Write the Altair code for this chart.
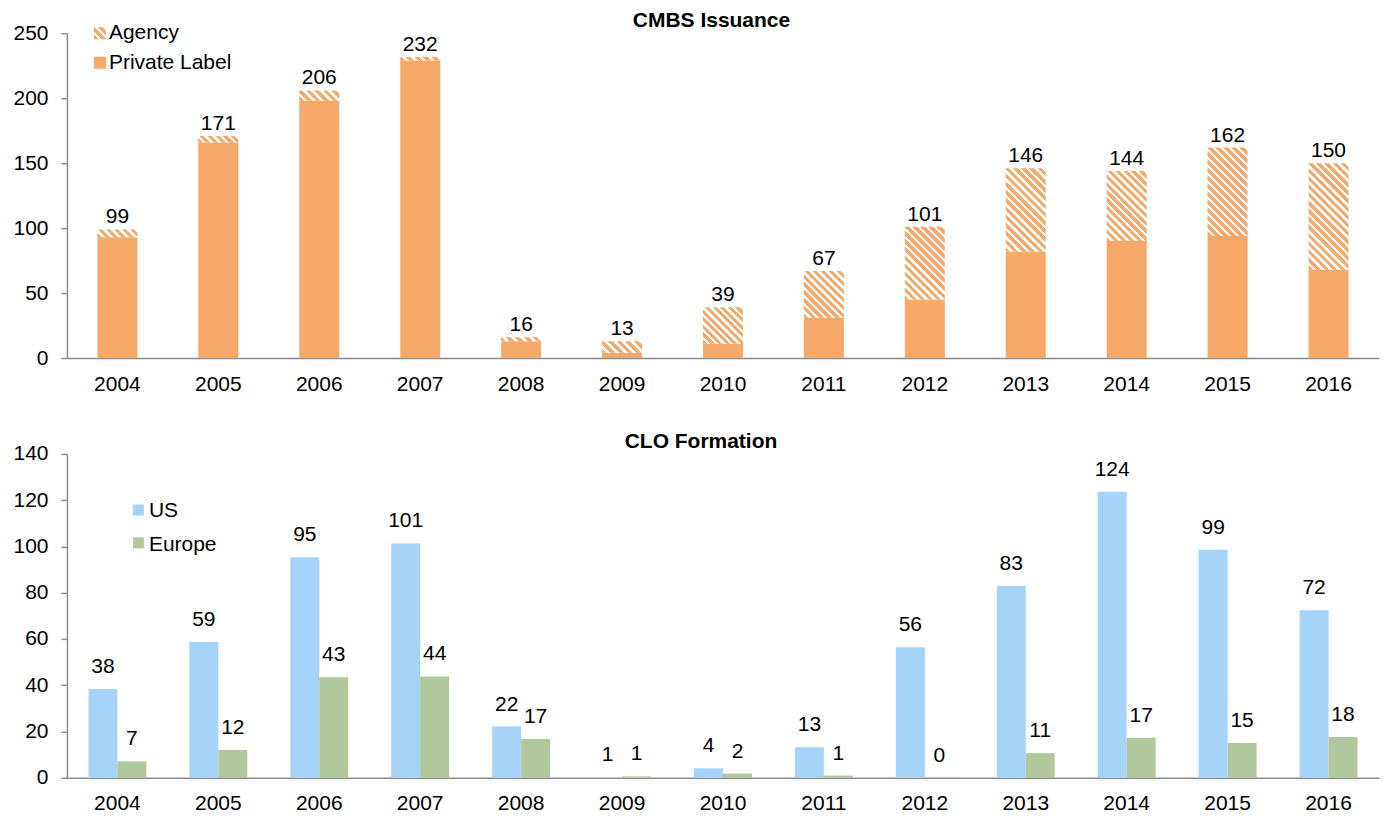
import altair as alt
import pandas as pd

# ---------------- data ----------------
years = ["2004", "2005", "2006", "2007", "2008", "2009", "2010",
         "2011", "2012", "2013", "2014", "2015", "2016"]

cmbs_total = [99, 171, 206, 232, 16, 13, 39, 67, 101, 146, 144, 162, 150]
cmbs_private = [93, 166, 198, 229, 13, 4, 11, 31, 45, 82, 90, 94, 68]

clo_us = [38.4, 58.7, 95.3, 101.3, 22.1, 0.3, 4.1, 13.2, 56.4, 83.0, 123.7, 98.6, 72.4]
clo_europe = [7.1, 12.0, 43.4, 43.8, 16.8, 0.6, 1.8, 0.9, 0.1, 10.6, 17.3, 15.0, 17.6]
clo_us_labels = ["38", "59", "95", "101", "22", "1", "4", "13", "56", "83", "124", "99", "72"]
clo_europe_labels = ["7", "12", "43", "44", "17", "1", "2", "1", "0", "11", "17", "15", "18"]

cmbs_ticks = [0, 50, 100, 150, 200, 250]
clo_ticks = [0, 20, 40, 60, 80, 100, 120, 140]

# ---------------- style ----------------
ORANGE = "#F5A868"
BLUE = "#A6D4F8"
GREEN = "#B1C89C"
GRAY = "#8C8C8C"
FONT = "Liberation Sans"
FS = 21

W = 1313
H_TOP = 325
H_BOT = 324
BAR_W = 40
CMBS_MAX = 250
CLO_MAX = 140


def hatch(w, h, period=8.0, frac=0.55):
    """Diagonal (\\) orange/white stripes as a bbox linear gradient."""
    h = max(h, 0.5)
    r = h / w
    a = (1 + r) / (1 + r * r)
    n = max(1, round((w + h) / period))
    stops = []
    for i in range(n):
        s = i / n
        m = (i + frac) / n
        e = (i + 1) / n
        stops += [
            alt.GradientStop(offset=s, color=ORANGE),
            alt.GradientStop(offset=m, color=ORANGE),
            alt.GradientStop(offset=m, color="#FFFFFF"),
            alt.GradientStop(offset=e, color="#FFFFFF"),
        ]
    return alt.LinearGradient(gradient="linear", x1=0, y1=1, x2=a, y2=1 - a * r, stops=stops)


one = pd.DataFrame({"k": [0]})


def swatch(color, x0, y0, size=12):
    return alt.Chart(one).mark_rect(color=color).encode(
        x=alt.value(x0), x2=alt.value(x0 + size), y=alt.value(y0), y2=alt.value(y0 + size)
    )


def label(text, x0, y0, bold=False, align="left"):
    return alt.Chart(one).mark_text(
        text=text, align=align, baseline="alphabetic", fontSize=FS,
        fontWeight="bold" if bold else "normal", color="black",
    ).encode(x=alt.value(x0), y=alt.value(y0))


# ---------------- CMBS chart ----------------
cmbs = pd.DataFrame({"year": years, "private": cmbs_private, "total": cmbs_total})

x_top = alt.X("year:N", sort=years,
              scale=alt.Scale(domain=years, paddingInner=0.6, paddingOuter=0.3),
              axis=alt.Axis(title=None))
y_scale_top = alt.Scale(domain=[0, CMBS_MAX], nice=False)
y_axis_top = alt.Axis(title=None, values=cmbs_ticks)

private_bars = alt.Chart(cmbs).mark_bar(size=BAR_W, color=ORANGE).encode(
    x=x_top,
    y=alt.Y("private:Q", scale=y_scale_top, axis=y_axis_top),
)

agency_layers = []
for yr, p, t in zip(years, cmbs_private, cmbs_total):
    h_px = (t - p) * H_TOP / CMBS_MAX
    agency_layers.append(
        alt.Chart(cmbs)
        .transform_filter(alt.datum.year == yr)
        .mark_bar(size=BAR_W, color=hatch(BAR_W, h_px))
        .encode(
            x=x_top,
            y=alt.Y("total:Q", scale=y_scale_top, axis=y_axis_top),
            y2="private:Q",
        )
    )

cmbs_labels = alt.Chart(cmbs).mark_text(
    dy=-6, baseline="alphabetic", fontSize=FS, color="black"
).encode(
    x=x_top,
    y=alt.Y("total:Q", scale=y_scale_top, axis=y_axis_top),
    text="total:Q",
)

top = alt.layer(
    private_bars, *agency_layers, cmbs_labels,
    swatch(hatch(12, 12), 27, -6), swatch(ORANGE, 27, 23.5),
    label("Agency", 42, 5.5), label("Private Label", 42, 35.5),
    label("CMBS Issuance", 645, -6, bold=True, align="center"),
).properties(width=W, height=H_TOP)

# ---------------- CLO chart ----------------
clo = pd.DataFrame({
    "year": years + years,
    "series": ["US"] * len(years) + ["Europe"] * len(years),
    "value": clo_us + clo_europe,
    "label": clo_us_labels + clo_europe_labels,
})

x_bot = alt.X("year:N", sort=years,
              scale=alt.Scale(domain=years, paddingInner=0.426, paddingOuter=0.213),
              axis=alt.Axis(title=None))
xo_bot = alt.XOffset("series:N", sort=["US", "Europe"],
                     scale=alt.Scale(domain=["US", "Europe"], paddingInner=0, paddingOuter=0))
y_bot = alt.Y("value:Q", scale=alt.Scale(domain=[0, CLO_MAX], nice=False),
              axis=alt.Axis(title=None, values=clo_ticks))

clo_bars = alt.Chart(clo).mark_bar().encode(
    x=x_bot,
    xOffset=xo_bot,
    y=y_bot,
    color=alt.Color("series:N",
                    scale=alt.Scale(domain=["US", "Europe"], range=[BLUE, GREEN]),
                    legend=None),
)
clo_text = alt.Chart(clo).mark_text(
    dy=-16, baseline="alphabetic", fontSize=FS, color="black"
).encode(x=x_bot, xOffset=xo_bot, y=y_bot, text="label:N")

bottom = alt.layer(
    clo_bars, clo_text,
    swatch(BLUE, 66, 50.5, 11), swatch(GREEN, 66, 83.5, 11),
    label("US", 82, 63.3), label("Europe", 82, 96.7),
    label("CLO Formation", 634.5, -6, bold=True, align="center"),
).properties(width=W, height=H_BOT)

chart = (
    alt.vconcat(top, bottom, spacing=37)
    .properties(padding={"left": 12, "top": 10, "right": 4, "bottom": 4})
    .configure(font=FONT)
    .configure_view(stroke=None)
    .configure_axis(
        grid=False, labelFontSize=FS, labelFont=FONT, labelColor="black",
        domainColor=GRAY, domainWidth=1.5, tickColor=GRAY, tickWidth=1.5,
    )
    .configure_axisX(ticks=False, labelPadding=15, labelAngle=0)
    .configure_axisY(tickSize=6, labelPadding=13)
)

chart.save("out.html", embed_options={"renderer": "svg", "actions": False})
